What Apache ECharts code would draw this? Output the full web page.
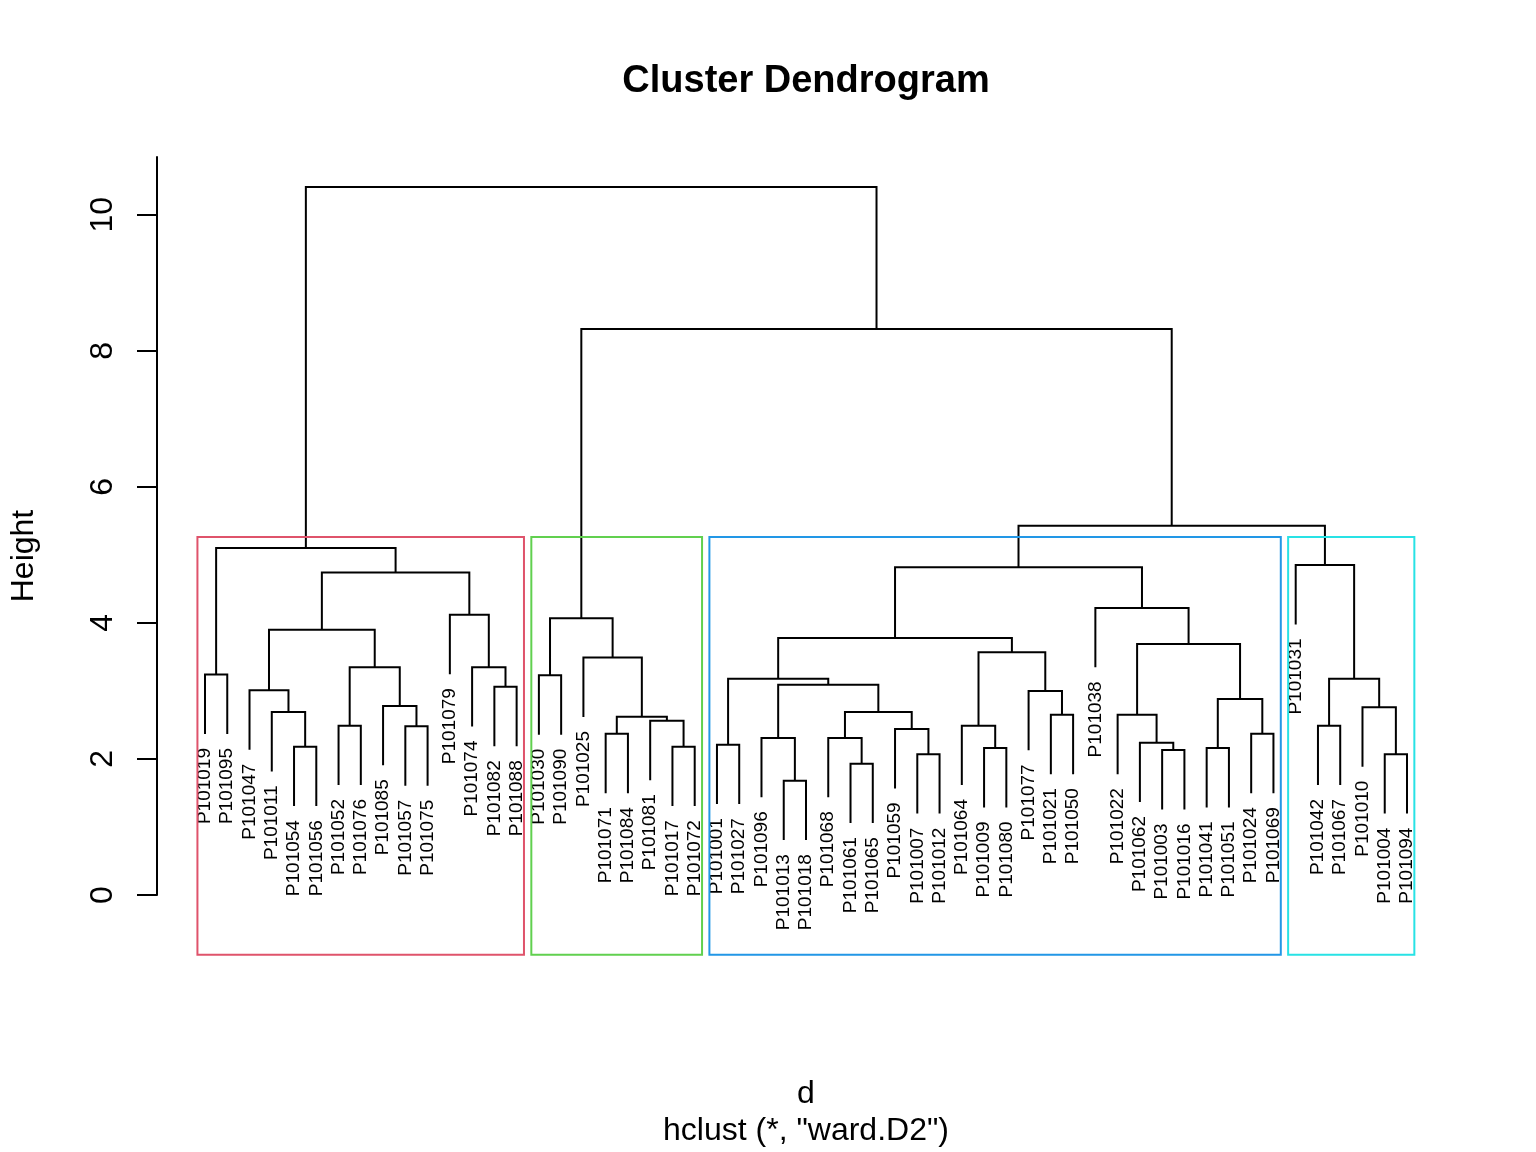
<!DOCTYPE html>
<html><head><meta charset="utf-8">
<script src="https://cdn.jsdelivr.net/npm/echarts@6/dist/echarts.min.js"></script>
<style>html,body{margin:0;padding:0;background:#fff}#c{width:1536px;height:1152px}</style>
</head><body><div id="c"></div>
<script>
// ---- data ----
const leafLabels = [
  'P101019','P101095','P101047','P101011','P101054','P101056','P101052','P101076','P101085','P101057','P101075','P101079','P101074','P101082','P101088',
  'P101030','P101090','P101025','P101071','P101084','P101081','P101017','P101072',
  'P101001','P101027','P101096','P101013','P101018','P101068','P101061','P101065','P101059','P101007','P101012','P101064','P101009','P101080','P101077','P101021','P101050','P101038','P101022','P101062','P101003','P101016','P101041','P101051','P101024','P101069',
  'P101031','P101042','P101067','P101010','P101004','P101094'
];
// merge rows: [left, right, height]; negative = leaf position (1-based), positive = earlier merge row (1-based)
const merges = [
  [-1,-2,3.24],[-5,-6,2.18],[-4,2,2.69],[-3,3,3.01],[-7,-8,2.49],[-10,-11,2.48],[-9,6,2.78],[5,7,3.35],[4,8,3.90],
  [-14,-15,3.06],[-13,10,3.35],[-12,11,4.12],[9,12,4.74],[1,13,5.10],
  [-16,-17,3.23],[-19,-20,2.37],[-22,-23,2.18],[-21,17,2.56],[16,18,2.62],[-18,19,3.49],[15,20,4.07],
  [-24,-25,2.21],[-27,-28,1.68],[-26,23,2.31],[-30,-31,1.93],[-29,25,2.31],[-33,-34,2.07],[-32,27,2.44],[26,28,2.69],
  [24,29,3.09],[22,30,3.18],[-36,-37,2.16],[-35,32,2.49],[-39,-40,2.65],[-38,34,3.00],[33,35,3.57],[31,36,3.78],
  [-44,-45,2.13],[-43,38,2.24],[-42,39,2.65],[-46,-47,2.16],[-48,-49,2.37],[41,42,2.88],[40,43,3.69],[-41,44,4.22],[37,45,4.82],
  [-51,-52,2.49],[-54,-55,2.07],[-53,48,2.76],[47,49,3.18],[-50,50,4.85],[46,51,5.43],
  [21,52,8.32],[14,53,10.41]
];
const clusterSizes = [15, 8, 26, 6];
const clusterColors = ['#DF536B', '#61D04F', '#2297E6', '#28E2E5'];
const yTicks = [0, 2, 4, 6, 8, 10];
const titleText = 'Cluster Dendrogram';
const yName = 'Height';
const xName = 'd';
const subText = 'hclust (*, "ward.D2")';

// ---- derived (R plot.hclust rules) ----
const FONT = '"Liberation Sans", Arial, Helvetica, sans-serif';
const heights = merges.map(m => m[2]);
const hang = 0.1 * (Math.max(...heights) - Math.min(...heights));
const nodeX = [], nodeH = [];
const leafEnds = new Array(leafLabels.length);
const segData = [];
merges.forEach((m, i) => {
  const h = m[2];
  const side = id => id < 0 ? { x: -id, h: h - hang, leaf: true } : { x: nodeX[id - 1], h: nodeH[id - 1], leaf: false };
  const a = side(m[0]), b = side(m[1]);
  if (a.leaf) leafEnds[a.x - 1] = a.h;
  if (b.leaf) leafEnds[b.x - 1] = b.h;
  nodeX[i] = (a.x + b.x) / 2; nodeH[i] = h;
  segData.push([a.x, a.h, b.x, b.h, h]);
});
const labelData = leafLabels.map((t, i) => [i + 1, leafEnds[i], t]);
const sortedH = heights.slice().sort((p, q) => q - p);
const k = clusterSizes.length;
const rectTop = (sortedH[k - 2] + sortedH[k - 1]) / 2;
const rectBottom = -0.88; // bottom of plot region (par("usr")[3])
const rectData = [];
let start = 1;
clusterSizes.forEach((n, i) => {
  rectData.push([start - 0.34, start + n - 1 + 0.33, rectTop, i]);
  start += n;
});

const chart = echarts.init(document.getElementById('c'), null, { renderer: 'canvas' });
chart.setOption({
  backgroundColor: '#ffffff',
  animation: false,
  grid: { left: 205, width: 1202, top: 157, height: 738, containLabel: false },
  xAxis: { type: 'value', min: 1, max: leafLabels.length, show: false },
  yAxis: {
    type: 'value', min: 0, max: 10.85, interval: 2,
    splitLine: { show: false },
    axisLine: { show: true, onZero: false, lineStyle: { color: '#000', width: 2 } },
    axisTick: { show: true, length: 20, customValues: yTicks, lineStyle: { color: '#000', width: 2 } },
    axisLabel: { show: true, customValues: yTicks, rotate: 90, margin: 38, fontSize: 32, color: '#000', fontFamily: FONT },
    offset: 48
  },
  graphic: [
    { type: 'text', x: 806, y: 82, style: { text: titleText, fontSize: 38, fontWeight: 'bold', fontFamily: FONT, fill: '#000', align: 'center', verticalAlign: 'middle' } },
    { type: 'text', x: 24, y: 556, rotation: Math.PI / 2, style: { text: yName, fontSize: 32, fontFamily: FONT, fill: '#000', align: 'center', verticalAlign: 'middle' } },
    { type: 'text', x: 806, y: 1094, style: { text: xName, fontSize: 32, fontFamily: FONT, fill: '#000', align: 'center', verticalAlign: 'middle' } },
    { type: 'text', x: 806, y: 1131, style: { text: subText, fontSize: 32, fontFamily: FONT, fill: '#000', align: 'center', verticalAlign: 'middle' } }
  ],
  series: [
    {
      type: 'custom', z: 2, clip: false, data: segData,
      encode: { x: [0, 2], y: [1, 3, 4] },
      renderItem: (params, api) => {
        const p1 = api.coord([api.value(0), api.value(1)]);
        const p2 = api.coord([api.value(0), api.value(4)]);
        const p3 = api.coord([api.value(2), api.value(4)]);
        const p4 = api.coord([api.value(2), api.value(3)]);
        return { type: 'polyline', shape: { points: [p1, p2, p3, p4] }, style: { stroke: '#000', lineWidth: 2, fill: null } };
      }
    },
    {
      type: 'custom', z: 3, clip: false, data: labelData,
      encode: { x: 0, y: 1 },
      renderItem: (params, api) => {
        const p = api.coord([api.value(0), api.value(1)]);
        return { type: 'text', x: p[0], y: p[1] + 14, rotation: Math.PI / 2,
          style: { text: labelData[params.dataIndex][2], fontSize: 19, fontFamily: FONT, fill: '#000', align: 'right', verticalAlign: 'middle' } };
      }
    },
    {
      type: 'custom', z: 4, clip: false, data: rectData,
      encode: { x: [0, 1], y: 2 },
      renderItem: (params, api) => {
        const a = api.coord([api.value(0), api.value(2)]);
        const b = api.coord([api.value(1), rectBottom]);
        return { type: 'rect', shape: { x: a[0], y: a[1], width: b[0] - a[0], height: b[1] - a[1] },
          style: { stroke: clusterColors[api.value(3)], lineWidth: 2, fill: null } };
      }
    }
  ]
});
</script></body></html>
